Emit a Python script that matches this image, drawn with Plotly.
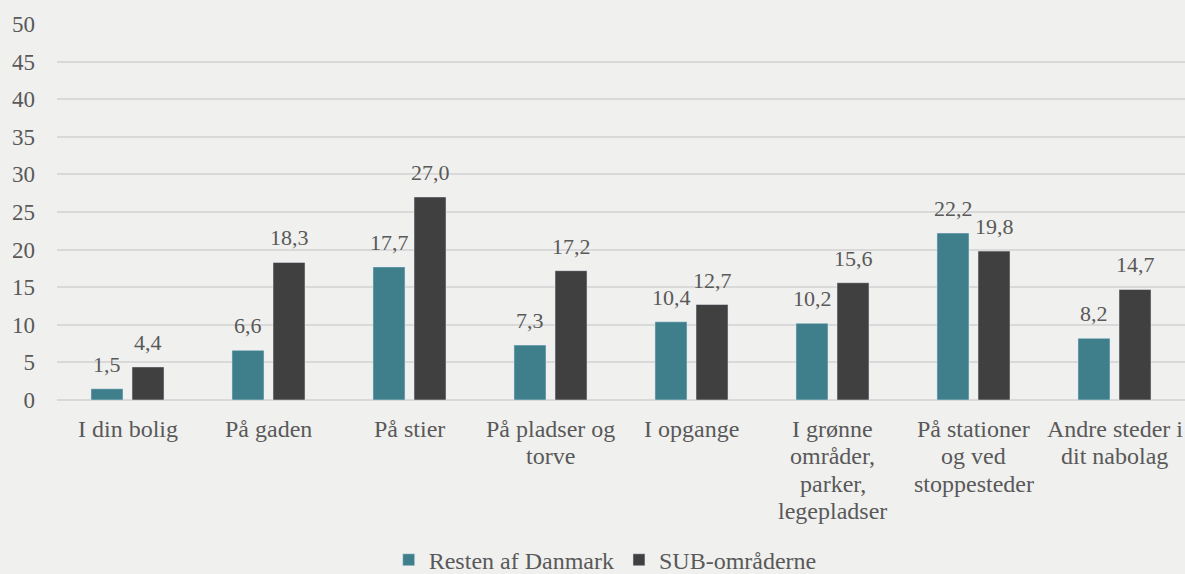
import plotly.graph_objects as go

categories = ["I din bolig", "På gaden", "På stier", "På pladser og<br>torve", "I opgange",
              "I grønne<br>områder,<br>parker,<br>legepladser", "På stationer<br>og ved<br>stoppesteder",
              "Andre steder i<br>dit nabolag"]
resten = [1.5, 6.6, 17.7, 7.3, 10.4, 10.2, 22.2, 8.2]
sub = [4.4, 18.3, 27.0, 17.2, 12.7, 15.6, 19.8, 14.7]
series_names = ["Resten af Danmark", "SUB-områderne"]
y_ticks = [0, 5, 10, 15, 20, 25, 30, 35, 40, 45, 50]

teal = "#3e7f8b"
dark = "#404040"
txt = "#595959"
font = "Liberation Serif"

fig = go.Figure()
fig.add_trace(go.Bar(x=categories, y=resten, name=series_names[0], marker_color=teal))
fig.add_trace(go.Bar(x=categories, y=sub, name=series_names[1], marker_color=dark))

annotations = []
# value labels
for vals, shift in ((resten, -20.5), (sub, 20.5)):
    for c, v in zip(categories, vals):
        annotations.append(dict(x=c, y=v, xref="x", yref="y", text=f"{v:.1f}".replace(".", ","),
                                showarrow=False, xshift=shift, yanchor="bottom", yshift=10,
                                font=dict(family=font, size=22, color=txt)))
# category labels (one annotation per line for tighter line spacing)
line_h = 27.3
for c in categories:
    for i, part in enumerate(c.split("<br>")):
        annotations.append(dict(x=c, y=0, xref="x", yref="y", text=part, showarrow=False,
                                yanchor="top", yshift=-(15 + i * line_h), borderpad=0,
                                font=dict(family=font, size=24, color=txt)))

fig.update_layout(
    width=1185, height=574,
    paper_bgcolor="#f0f0ef", plot_bgcolor="#f0f0ef",
    margin=dict(l=57, r=0, t=24, b=174, autoexpand=False),
    barmode="group", bargap=0.418, bargroupgap=0.22,
    separators=",.",
    font=dict(family=font, size=24, color=txt),
    showlegend=True,
    legend=dict(orientation="h", x=0.486, xanchor="center", y=-0.426, yanchor="middle",
                font=dict(family=font, size=24, color=txt), bgcolor="rgba(0,0,0,0)"),
    annotations=annotations,
)
fig.update_yaxes(range=[0, 50], tickvals=y_ticks, showgrid=True, gridcolor="#d9d9d9", gridwidth=1.5,
                 zeroline=True, zerolinecolor="#d9d9d9", zerolinewidth=1.5, showline=False,
                 ticklabelstandoff=21, tickfont=dict(family=font, size=23, color=txt))
fig.update_xaxes(showgrid=False, showline=False, showticklabels=False)

fig.write_html("out.html", config={"displayModeBar": False},
               post_script="document.body.style.margin='0';document.body.style.overflow='hidden';")
